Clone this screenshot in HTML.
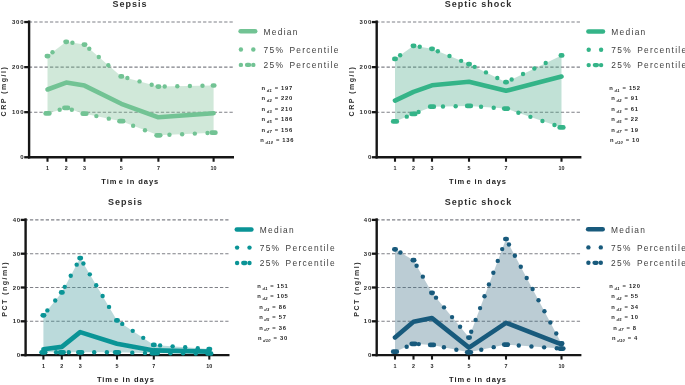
<!DOCTYPE html>
<html><head><meta charset="utf-8"><style>
html,body{margin:0;padding:0;background:#fff;overflow:hidden;}
svg{display:block;font-family:"Liberation Sans", sans-serif;filter:blur(0.25px);will-change:transform;}
</style></head><body>
<svg width="685" height="385" viewBox="0 0 685 385">
<rect width="685" height="385" fill="#fff"/>
<line x1="28.82" y1="112.18" x2="233.2" y2="112.18" stroke="#7f8087" stroke-width="1.1" stroke-dasharray="3.3 1.98"/>
<line x1="28.82" y1="67.12" x2="233.2" y2="67.12" stroke="#7f8087" stroke-width="1.1" stroke-dasharray="3.3 1.98"/>
<line x1="28.82" y1="22.05" x2="233.2" y2="22.05" stroke="#7f8087" stroke-width="1.1" stroke-dasharray="3.3 1.98"/>
<polygon points="47.50,113.40 66.20,107.90 84.50,113.70 121.30,121.20 158.40,135.30 213.60,132.70 213.60,157.25 47.50,157.25" fill="#fff"/>
<polygon points="47.50,56.10 66.20,41.80 84.50,44.60 121.30,76.40 158.40,86.60 213.60,85.50 213.60,132.70 158.40,135.30 121.30,121.20 84.50,113.70 66.20,107.90 47.50,113.40" fill="#79bd92" fill-opacity="0.35"/>
<line x1="29.1" y1="20.45" x2="29.1" y2="158.45" stroke="#161616" stroke-width="2.4"/>
<line x1="28.0" y1="157.25" x2="234.0" y2="157.25" stroke="#161616" stroke-width="2.3"/>
<line x1="24.200000000000003" y1="157.25" x2="29.1" y2="157.25" stroke="#161616" stroke-width="2.3"/>
<text x="24.5" y="159.35" font-size="6.0" font-weight="bold" fill="#2a2a2a" text-anchor="end" letter-spacing="0.85">0</text>
<line x1="24.200000000000003" y1="112.18" x2="29.1" y2="112.18" stroke="#161616" stroke-width="2.3"/>
<text x="24.5" y="114.28" font-size="6.0" font-weight="bold" fill="#2a2a2a" text-anchor="end" letter-spacing="0.85">100</text>
<line x1="24.200000000000003" y1="67.12" x2="29.1" y2="67.12" stroke="#161616" stroke-width="2.3"/>
<text x="24.5" y="69.22" font-size="6.0" font-weight="bold" fill="#2a2a2a" text-anchor="end" letter-spacing="0.85">200</text>
<line x1="24.200000000000003" y1="22.05" x2="29.1" y2="22.05" stroke="#161616" stroke-width="2.3"/>
<text x="24.5" y="24.15" font-size="6.0" font-weight="bold" fill="#2a2a2a" text-anchor="end" letter-spacing="0.85">300</text>
<line x1="47.5" y1="157.25" x2="47.5" y2="161.75" stroke="#161616" stroke-width="2.1"/>
<text x="47.5" y="169.7" font-size="5.4" font-weight="bold" fill="#262626" text-anchor="middle">1</text>
<line x1="66.2" y1="157.25" x2="66.2" y2="161.75" stroke="#161616" stroke-width="2.1"/>
<text x="66.2" y="169.7" font-size="5.4" font-weight="bold" fill="#262626" text-anchor="middle">2</text>
<line x1="84.5" y1="157.25" x2="84.5" y2="161.75" stroke="#161616" stroke-width="2.1"/>
<text x="84.5" y="169.7" font-size="5.4" font-weight="bold" fill="#262626" text-anchor="middle">3</text>
<line x1="121.3" y1="157.25" x2="121.3" y2="161.75" stroke="#161616" stroke-width="2.1"/>
<text x="121.3" y="169.7" font-size="5.4" font-weight="bold" fill="#262626" text-anchor="middle">5</text>
<line x1="158.4" y1="157.25" x2="158.4" y2="161.75" stroke="#161616" stroke-width="2.1"/>
<text x="158.4" y="169.7" font-size="5.4" font-weight="bold" fill="#262626" text-anchor="middle">7</text>
<line x1="213.6" y1="157.25" x2="213.6" y2="161.75" stroke="#161616" stroke-width="2.1"/>
<text x="213.6" y="169.7" font-size="5.4" font-weight="bold" fill="#262626" text-anchor="middle">10</text>
<circle cx="59.68" cy="109.82" r="2.2" fill="#72c394"/>
<circle cx="71.83" cy="109.68" r="2.2" fill="#72c394"/>
<circle cx="96.37" cy="116.12" r="2.2" fill="#72c394"/>
<circle cx="108.81" cy="118.65" r="2.2" fill="#72c394"/>
<circle cx="133.13" cy="125.70" r="2.2" fill="#72c394"/>
<circle cx="145.00" cy="130.21" r="2.2" fill="#72c394"/>
<circle cx="169.45" cy="134.78" r="2.2" fill="#72c394"/>
<circle cx="182.14" cy="134.18" r="2.2" fill="#72c394"/>
<circle cx="194.82" cy="133.58" r="2.2" fill="#72c394"/>
<circle cx="207.51" cy="132.99" r="2.2" fill="#72c394"/>
<rect x="43.35" y="111.05" width="8.30" height="4.70" rx="2.35" fill="#72c394"/>
<rect x="62.05" y="105.55" width="8.30" height="4.70" rx="2.35" fill="#72c394"/>
<rect x="80.35" y="111.35" width="8.30" height="4.70" rx="2.35" fill="#72c394"/>
<rect x="117.15" y="118.85" width="8.30" height="4.70" rx="2.35" fill="#72c394"/>
<rect x="154.25" y="132.95" width="8.30" height="4.70" rx="2.35" fill="#72c394"/>
<rect x="209.45" y="130.35" width="8.30" height="4.70" rx="2.35" fill="#72c394"/>
<circle cx="52.50" cy="52.27" r="2.2" fill="#72c394"/>
<circle cx="72.43" cy="42.75" r="2.2" fill="#72c394"/>
<circle cx="89.27" cy="48.72" r="2.2" fill="#72c394"/>
<circle cx="98.80" cy="56.96" r="2.2" fill="#72c394"/>
<circle cx="108.33" cy="65.20" r="2.2" fill="#72c394"/>
<circle cx="127.37" cy="78.07" r="2.2" fill="#72c394"/>
<circle cx="139.52" cy="81.41" r="2.2" fill="#72c394"/>
<circle cx="151.67" cy="84.75" r="2.2" fill="#72c394"/>
<circle cx="164.70" cy="86.47" r="2.2" fill="#72c394"/>
<circle cx="177.30" cy="86.22" r="2.2" fill="#72c394"/>
<circle cx="189.89" cy="85.97" r="2.2" fill="#72c394"/>
<circle cx="202.49" cy="85.72" r="2.2" fill="#72c394"/>
<rect x="44.50" y="53.75" width="6.00" height="4.70" rx="2.35" fill="#72c394"/>
<rect x="63.20" y="39.45" width="6.00" height="4.70" rx="2.35" fill="#72c394"/>
<rect x="81.50" y="42.25" width="6.00" height="4.70" rx="2.35" fill="#72c394"/>
<rect x="118.30" y="74.05" width="6.00" height="4.70" rx="2.35" fill="#72c394"/>
<rect x="155.40" y="84.25" width="6.00" height="4.70" rx="2.35" fill="#72c394"/>
<rect x="210.60" y="83.15" width="6.00" height="4.70" rx="2.35" fill="#72c394"/>
<polyline points="47.50,89.50 66.20,82.60 84.50,85.60 121.30,103.80 158.40,117.30 213.60,113.20" fill="none" stroke="#72c394" stroke-width="4.6" stroke-linecap="round" stroke-linejoin="round"/>
<text x="130.0" y="7.2" font-size="9" font-weight="bold" fill="#2e2e2e" text-anchor="middle" letter-spacing="1.0">Sepsis</text>
<text x="130.2" y="184.3" font-size="7.5" font-weight="bold" fill="#222" text-anchor="middle" letter-spacing="0.93">Tim<tspan dx="1.4">e</tspan> in days</text>
<text transform="translate(5.9,91.1) rotate(-90)" x="0" y="0" font-size="7" font-weight="bold" fill="#2e2e2e" text-anchor="middle" letter-spacing="1.5">CRP (mg/l)</text>
<line x1="240.6" y1="31.3" x2="255.2" y2="31.3" stroke="#72c394" stroke-width="4.5" stroke-linecap="round"/>
<circle cx="240.9" cy="49.5" r="2.2" fill="#72c394"/>
<circle cx="253.3" cy="49.5" r="2.2" fill="#72c394"/>
<circle cx="240.9" cy="64.9" r="2.2" fill="#72c394"/>
<rect x="244.90" y="62.75" width="6.40" height="4.30" rx="2.15" fill="#72c394"/>
<circle cx="253.3" cy="64.9" r="2.2" fill="#72c394"/>
<text x="263.5" y="34.6" font-size="8.4" fill="#3c3c3c" letter-spacing="1.3">Median</text>
<text x="263.5" y="52.8" font-size="8.4" fill="#3c3c3c" letter-spacing="1.3">75%<tspan dx="1.6"> Percentile</tspan></text>
<text x="263.5" y="68.0" font-size="8.4" fill="#3c3c3c" letter-spacing="1.3">25%<tspan dx="1.6"> Percentile</tspan></text>
<text x="277.2" y="89.9" font-size="5.8" font-weight="bold" fill="#1e1e1e" text-anchor="middle" letter-spacing="0.7">n<tspan font-size="4.0" font-style="italic" dx="0.9" dy="1.9" letter-spacing="0.3">d1</tspan><tspan dx="0.4" dy="-1.9">&#160;=&#160;197</tspan></text>
<text x="277.2" y="100.3" font-size="5.8" font-weight="bold" fill="#1e1e1e" text-anchor="middle" letter-spacing="0.7">n<tspan font-size="4.0" font-style="italic" dx="0.9" dy="1.9" letter-spacing="0.3">d2</tspan><tspan dx="0.4" dy="-1.9">&#160;=&#160;220</tspan></text>
<text x="277.2" y="110.7" font-size="5.8" font-weight="bold" fill="#1e1e1e" text-anchor="middle" letter-spacing="0.7">n<tspan font-size="4.0" font-style="italic" dx="0.9" dy="1.9" letter-spacing="0.3">d3</tspan><tspan dx="0.4" dy="-1.9">&#160;=&#160;210</tspan></text>
<text x="277.2" y="121.1" font-size="5.8" font-weight="bold" fill="#1e1e1e" text-anchor="middle" letter-spacing="0.7">n<tspan font-size="4.0" font-style="italic" dx="0.9" dy="1.9" letter-spacing="0.3">d5</tspan><tspan dx="0.4" dy="-1.9">&#160;=&#160;186</tspan></text>
<text x="277.2" y="131.5" font-size="5.8" font-weight="bold" fill="#1e1e1e" text-anchor="middle" letter-spacing="0.7">n<tspan font-size="4.0" font-style="italic" dx="0.9" dy="1.9" letter-spacing="0.3">d7</tspan><tspan dx="0.4" dy="-1.9">&#160;=&#160;156</tspan></text>
<text x="277.2" y="141.9" font-size="5.8" font-weight="bold" fill="#1e1e1e" text-anchor="middle" letter-spacing="0.7">n<tspan font-size="4.0" font-style="italic" dx="0.9" dy="1.9" letter-spacing="0.3">d10</tspan><tspan dx="0.4" dy="-1.9">&#160;=&#160;136</tspan></text>
<line x1="376.02" y1="112.18" x2="580.8" y2="112.18" stroke="#7f8087" stroke-width="1.1" stroke-dasharray="3.3 1.98"/>
<line x1="376.02" y1="67.12" x2="580.8" y2="67.12" stroke="#7f8087" stroke-width="1.1" stroke-dasharray="3.3 1.98"/>
<line x1="376.02" y1="22.05" x2="580.8" y2="22.05" stroke="#7f8087" stroke-width="1.1" stroke-dasharray="3.3 1.98"/>
<polygon points="395.00,121.40 413.50,113.90 432.00,106.70 469.00,105.90 506.00,108.60 561.50,127.40 561.50,157.25 395.00,157.25" fill="#fff"/>
<polygon points="395.00,58.90 413.50,45.80 432.00,48.80 469.00,64.10 506.00,82.20 561.50,55.40 561.50,127.40 506.00,108.60 469.00,105.90 432.00,106.70 413.50,113.90 395.00,121.40" fill="#4ea98a" fill-opacity="0.35"/>
<line x1="376.7" y1="20.45" x2="376.7" y2="158.45" stroke="#161616" stroke-width="2.4"/>
<line x1="375.59999999999997" y1="157.25" x2="581.4" y2="157.25" stroke="#161616" stroke-width="2.3"/>
<line x1="371.8" y1="157.25" x2="376.7" y2="157.25" stroke="#161616" stroke-width="2.3"/>
<text x="372.1" y="159.35" font-size="6.0" font-weight="bold" fill="#2a2a2a" text-anchor="end" letter-spacing="0.85">0</text>
<line x1="371.8" y1="112.18" x2="376.7" y2="112.18" stroke="#161616" stroke-width="2.3"/>
<text x="372.1" y="114.28" font-size="6.0" font-weight="bold" fill="#2a2a2a" text-anchor="end" letter-spacing="0.85">100</text>
<line x1="371.8" y1="67.12" x2="376.7" y2="67.12" stroke="#161616" stroke-width="2.3"/>
<text x="372.1" y="69.22" font-size="6.0" font-weight="bold" fill="#2a2a2a" text-anchor="end" letter-spacing="0.85">200</text>
<line x1="371.8" y1="22.05" x2="376.7" y2="22.05" stroke="#161616" stroke-width="2.3"/>
<text x="372.1" y="24.15" font-size="6.0" font-weight="bold" fill="#2a2a2a" text-anchor="end" letter-spacing="0.85">300</text>
<line x1="395.0" y1="157.25" x2="395.0" y2="161.75" stroke="#161616" stroke-width="2.1"/>
<text x="395.0" y="169.7" font-size="5.4" font-weight="bold" fill="#262626" text-anchor="middle">1</text>
<line x1="413.5" y1="157.25" x2="413.5" y2="161.75" stroke="#161616" stroke-width="2.1"/>
<text x="413.5" y="169.7" font-size="5.4" font-weight="bold" fill="#262626" text-anchor="middle">2</text>
<line x1="432.0" y1="157.25" x2="432.0" y2="161.75" stroke="#161616" stroke-width="2.1"/>
<text x="432.0" y="169.7" font-size="5.4" font-weight="bold" fill="#262626" text-anchor="middle">3</text>
<line x1="469.0" y1="157.25" x2="469.0" y2="161.75" stroke="#161616" stroke-width="2.1"/>
<text x="469.0" y="169.7" font-size="5.4" font-weight="bold" fill="#262626" text-anchor="middle">5</text>
<line x1="506.0" y1="157.25" x2="506.0" y2="161.75" stroke="#161616" stroke-width="2.1"/>
<text x="506.0" y="169.7" font-size="5.4" font-weight="bold" fill="#262626" text-anchor="middle">7</text>
<line x1="561.5" y1="157.25" x2="561.5" y2="161.75" stroke="#161616" stroke-width="2.1"/>
<text x="561.5" y="169.7" font-size="5.4" font-weight="bold" fill="#262626" text-anchor="middle">10</text>
<circle cx="406.77" cy="116.63" r="2.2" fill="#34b488"/>
<circle cx="418.57" cy="111.93" r="2.2" fill="#34b488"/>
<circle cx="442.98" cy="106.46" r="2.2" fill="#34b488"/>
<circle cx="455.68" cy="106.19" r="2.2" fill="#34b488"/>
<circle cx="481.05" cy="106.78" r="2.2" fill="#34b488"/>
<circle cx="493.71" cy="107.70" r="2.2" fill="#34b488"/>
<circle cx="518.39" cy="112.80" r="2.2" fill="#34b488"/>
<circle cx="530.42" cy="116.87" r="2.2" fill="#34b488"/>
<circle cx="542.44" cy="120.95" r="2.2" fill="#34b488"/>
<circle cx="554.47" cy="125.02" r="2.2" fill="#34b488"/>
<rect x="390.85" y="119.05" width="8.30" height="4.70" rx="2.35" fill="#34b488"/>
<rect x="409.35" y="111.55" width="8.30" height="4.70" rx="2.35" fill="#34b488"/>
<rect x="427.85" y="104.35" width="8.30" height="4.70" rx="2.35" fill="#34b488"/>
<rect x="464.85" y="103.55" width="8.30" height="4.70" rx="2.35" fill="#34b488"/>
<rect x="501.85" y="106.25" width="8.30" height="4.70" rx="2.35" fill="#34b488"/>
<rect x="557.35" y="125.05" width="8.30" height="4.70" rx="2.35" fill="#34b488"/>
<circle cx="400.14" cy="55.26" r="2.2" fill="#34b488"/>
<circle cx="419.72" cy="46.81" r="2.2" fill="#34b488"/>
<circle cx="437.82" cy="51.21" r="2.2" fill="#34b488"/>
<circle cx="449.47" cy="56.02" r="2.2" fill="#34b488"/>
<circle cx="461.11" cy="60.84" r="2.2" fill="#34b488"/>
<circle cx="474.66" cy="66.87" r="2.2" fill="#34b488"/>
<circle cx="485.98" cy="72.41" r="2.2" fill="#34b488"/>
<circle cx="497.30" cy="77.94" r="2.2" fill="#34b488"/>
<circle cx="511.67" cy="79.46" r="2.2" fill="#34b488"/>
<circle cx="523.02" cy="73.98" r="2.2" fill="#34b488"/>
<circle cx="534.37" cy="68.50" r="2.2" fill="#34b488"/>
<circle cx="545.71" cy="63.02" r="2.2" fill="#34b488"/>
<rect x="392.00" y="56.55" width="6.00" height="4.70" rx="2.35" fill="#34b488"/>
<rect x="410.50" y="43.45" width="6.00" height="4.70" rx="2.35" fill="#34b488"/>
<rect x="429.00" y="46.45" width="6.00" height="4.70" rx="2.35" fill="#34b488"/>
<rect x="466.00" y="61.75" width="6.00" height="4.70" rx="2.35" fill="#34b488"/>
<rect x="503.00" y="79.85" width="6.00" height="4.70" rx="2.35" fill="#34b488"/>
<rect x="558.50" y="53.05" width="6.00" height="4.70" rx="2.35" fill="#34b488"/>
<polyline points="395.00,100.60 413.50,91.80 432.00,85.30 469.00,81.80 506.00,90.80 561.50,76.60" fill="none" stroke="#34b488" stroke-width="4.6" stroke-linecap="round" stroke-linejoin="round"/>
<text x="478.4" y="7.1" font-size="9" font-weight="bold" fill="#2e2e2e" text-anchor="middle" letter-spacing="1.0">Septic shock</text>
<text x="478.0" y="184.3" font-size="7.5" font-weight="bold" fill="#222" text-anchor="middle" letter-spacing="0.93">Tim<tspan dx="1.4">e</tspan> in days</text>
<text transform="translate(353.8,91.1) rotate(-90)" x="0" y="0" font-size="7" font-weight="bold" fill="#2e2e2e" text-anchor="middle" letter-spacing="1.5">CRP (mg/l)</text>
<line x1="588.4000000000001" y1="31.5" x2="603.0" y2="31.5" stroke="#34b488" stroke-width="4.5" stroke-linecap="round"/>
<circle cx="588.7" cy="49.7" r="2.2" fill="#34b488"/>
<circle cx="601.1" cy="49.7" r="2.2" fill="#34b488"/>
<circle cx="588.7" cy="65.1" r="2.2" fill="#34b488"/>
<rect x="592.70" y="62.95" width="6.40" height="4.30" rx="2.15" fill="#34b488"/>
<circle cx="601.1" cy="65.1" r="2.2" fill="#34b488"/>
<text x="611.3" y="34.8" font-size="8.4" fill="#3c3c3c" letter-spacing="1.3">Median</text>
<text x="611.3" y="53.0" font-size="8.4" fill="#3c3c3c" letter-spacing="1.3">75%<tspan dx="1.6"> Percentile</tspan></text>
<text x="611.3" y="68.2" font-size="8.4" fill="#3c3c3c" letter-spacing="1.3">25%<tspan dx="1.6"> Percentile</tspan></text>
<text x="625.0" y="89.9" font-size="5.8" font-weight="bold" fill="#1e1e1e" text-anchor="middle" letter-spacing="0.7">n<tspan font-size="4.0" font-style="italic" dx="0.9" dy="1.9" letter-spacing="0.3">d1</tspan><tspan dx="0.4" dy="-1.9">&#160;=&#160;152</tspan></text>
<text x="625.0" y="100.3" font-size="5.8" font-weight="bold" fill="#1e1e1e" text-anchor="middle" letter-spacing="0.7">n<tspan font-size="4.0" font-style="italic" dx="0.9" dy="1.9" letter-spacing="0.3">d2</tspan><tspan dx="0.4" dy="-1.9">&#160;=&#160;91</tspan></text>
<text x="625.0" y="110.7" font-size="5.8" font-weight="bold" fill="#1e1e1e" text-anchor="middle" letter-spacing="0.7">n<tspan font-size="4.0" font-style="italic" dx="0.9" dy="1.9" letter-spacing="0.3">d3</tspan><tspan dx="0.4" dy="-1.9">&#160;=&#160;61</tspan></text>
<text x="625.0" y="121.1" font-size="5.8" font-weight="bold" fill="#1e1e1e" text-anchor="middle" letter-spacing="0.7">n<tspan font-size="4.0" font-style="italic" dx="0.9" dy="1.9" letter-spacing="0.3">d5</tspan><tspan dx="0.4" dy="-1.9">&#160;=&#160;22</tspan></text>
<text x="625.0" y="131.5" font-size="5.8" font-weight="bold" fill="#1e1e1e" text-anchor="middle" letter-spacing="0.7">n<tspan font-size="4.0" font-style="italic" dx="0.9" dy="1.9" letter-spacing="0.3">d7</tspan><tspan dx="0.4" dy="-1.9">&#160;=&#160;19</tspan></text>
<text x="625.0" y="141.9" font-size="5.8" font-weight="bold" fill="#1e1e1e" text-anchor="middle" letter-spacing="0.7">n<tspan font-size="4.0" font-style="italic" dx="0.9" dy="1.9" letter-spacing="0.3">d10</tspan><tspan dx="0.4" dy="-1.9">&#160;=&#160;10</tspan></text>
<line x1="24.62" y1="321.30" x2="228.5" y2="321.30" stroke="#7f8087" stroke-width="1.1" stroke-dasharray="3.3 1.98"/>
<line x1="24.62" y1="287.50" x2="228.5" y2="287.50" stroke="#7f8087" stroke-width="1.1" stroke-dasharray="3.3 1.98"/>
<line x1="24.62" y1="253.70" x2="228.5" y2="253.70" stroke="#7f8087" stroke-width="1.1" stroke-dasharray="3.3 1.98"/>
<line x1="24.62" y1="219.90" x2="228.5" y2="219.90" stroke="#7f8087" stroke-width="1.1" stroke-dasharray="3.3 1.98"/>
<polygon points="43.40,352.30 61.80,352.30 80.20,352.30 117.00,352.30 153.80,353.20 209.30,353.50 209.30,355.10 43.40,355.10" fill="#fff"/>
<polygon points="43.40,315.30 61.80,292.40 80.20,258.10 117.00,320.40 153.80,344.90 209.30,349.10 209.30,353.50 153.80,353.20 117.00,352.30 80.20,352.30 61.80,352.30 43.40,352.30" fill="#3d9598" fill-opacity="0.35"/>
<line x1="25.6" y1="218.3" x2="25.6" y2="356.3" stroke="#161616" stroke-width="2.4"/>
<line x1="24.5" y1="355.1" x2="229.5" y2="355.1" stroke="#161616" stroke-width="2.3"/>
<line x1="20.700000000000003" y1="355.10" x2="25.6" y2="355.10" stroke="#161616" stroke-width="2.3"/>
<text x="21.0" y="357.20" font-size="6.0" font-weight="bold" fill="#2a2a2a" text-anchor="end" letter-spacing="0.85">0</text>
<line x1="20.700000000000003" y1="321.30" x2="25.6" y2="321.30" stroke="#161616" stroke-width="2.3"/>
<text x="21.0" y="323.40" font-size="6.0" font-weight="bold" fill="#2a2a2a" text-anchor="end" letter-spacing="0.85">10</text>
<line x1="20.700000000000003" y1="287.50" x2="25.6" y2="287.50" stroke="#161616" stroke-width="2.3"/>
<text x="21.0" y="289.60" font-size="6.0" font-weight="bold" fill="#2a2a2a" text-anchor="end" letter-spacing="0.85">20</text>
<line x1="20.700000000000003" y1="253.70" x2="25.6" y2="253.70" stroke="#161616" stroke-width="2.3"/>
<text x="21.0" y="255.80" font-size="6.0" font-weight="bold" fill="#2a2a2a" text-anchor="end" letter-spacing="0.85">30</text>
<line x1="20.700000000000003" y1="219.90" x2="25.6" y2="219.90" stroke="#161616" stroke-width="2.3"/>
<text x="21.0" y="222.00" font-size="6.0" font-weight="bold" fill="#2a2a2a" text-anchor="end" letter-spacing="0.85">40</text>
<line x1="43.4" y1="355.1" x2="43.4" y2="359.6" stroke="#161616" stroke-width="2.1"/>
<text x="43.4" y="367.5" font-size="5.4" font-weight="bold" fill="#262626" text-anchor="middle">1</text>
<line x1="61.8" y1="355.1" x2="61.8" y2="359.6" stroke="#161616" stroke-width="2.1"/>
<text x="61.8" y="367.5" font-size="5.4" font-weight="bold" fill="#262626" text-anchor="middle">2</text>
<line x1="80.2" y1="355.1" x2="80.2" y2="359.6" stroke="#161616" stroke-width="2.1"/>
<text x="80.2" y="367.5" font-size="5.4" font-weight="bold" fill="#262626" text-anchor="middle">3</text>
<line x1="117.0" y1="355.1" x2="117.0" y2="359.6" stroke="#161616" stroke-width="2.1"/>
<text x="117.0" y="367.5" font-size="5.4" font-weight="bold" fill="#262626" text-anchor="middle">5</text>
<line x1="153.8" y1="355.1" x2="153.8" y2="359.6" stroke="#161616" stroke-width="2.1"/>
<text x="153.8" y="367.5" font-size="5.4" font-weight="bold" fill="#262626" text-anchor="middle">7</text>
<line x1="209.3" y1="355.1" x2="209.3" y2="359.6" stroke="#161616" stroke-width="2.1"/>
<text x="209.3" y="367.5" font-size="5.4" font-weight="bold" fill="#262626" text-anchor="middle">10</text>
<circle cx="56.10" cy="352.30" r="2.2" fill="#0a9496"/>
<circle cx="68.80" cy="352.30" r="2.2" fill="#0a9496"/>
<circle cx="94.20" cy="352.30" r="2.2" fill="#0a9496"/>
<circle cx="106.90" cy="352.30" r="2.2" fill="#0a9496"/>
<circle cx="132.30" cy="352.67" r="2.2" fill="#0a9496"/>
<circle cx="144.99" cy="352.98" r="2.2" fill="#0a9496"/>
<circle cx="157.69" cy="353.22" r="2.2" fill="#0a9496"/>
<circle cx="170.39" cy="353.29" r="2.2" fill="#0a9496"/>
<circle cx="183.09" cy="353.36" r="2.2" fill="#0a9496"/>
<circle cx="195.79" cy="353.43" r="2.2" fill="#0a9496"/>
<rect x="39.25" y="349.95" width="8.30" height="4.70" rx="2.35" fill="#0a9496"/>
<rect x="57.65" y="349.95" width="8.30" height="4.70" rx="2.35" fill="#0a9496"/>
<rect x="76.05" y="349.95" width="8.30" height="4.70" rx="2.35" fill="#0a9496"/>
<rect x="112.85" y="349.95" width="8.30" height="4.70" rx="2.35" fill="#0a9496"/>
<rect x="149.65" y="350.85" width="8.30" height="4.70" rx="2.35" fill="#0a9496"/>
<rect x="205.15" y="351.15" width="8.30" height="4.70" rx="2.35" fill="#0a9496"/>
<circle cx="47.35" cy="310.39" r="2.2" fill="#0a9496"/>
<circle cx="55.24" cy="300.57" r="2.2" fill="#0a9496"/>
<circle cx="64.78" cy="286.85" r="2.2" fill="#0a9496"/>
<circle cx="70.73" cy="275.75" r="2.2" fill="#0a9496"/>
<circle cx="76.69" cy="264.64" r="2.2" fill="#0a9496"/>
<circle cx="83.40" cy="263.52" r="2.2" fill="#0a9496"/>
<circle cx="89.81" cy="274.37" r="2.2" fill="#0a9496"/>
<circle cx="96.22" cy="285.22" r="2.2" fill="#0a9496"/>
<circle cx="102.63" cy="296.07" r="2.2" fill="#0a9496"/>
<circle cx="109.04" cy="306.92" r="2.2" fill="#0a9496"/>
<circle cx="122.24" cy="323.89" r="2.2" fill="#0a9496"/>
<circle cx="132.73" cy="330.87" r="2.2" fill="#0a9496"/>
<circle cx="143.22" cy="337.86" r="2.2" fill="#0a9496"/>
<circle cx="160.08" cy="345.38" r="2.2" fill="#0a9496"/>
<circle cx="172.65" cy="346.33" r="2.2" fill="#0a9496"/>
<circle cx="185.21" cy="347.28" r="2.2" fill="#0a9496"/>
<circle cx="197.77" cy="348.23" r="2.2" fill="#0a9496"/>
<rect x="40.40" y="312.95" width="6.00" height="4.70" rx="2.35" fill="#0a9496"/>
<rect x="58.80" y="290.05" width="6.00" height="4.70" rx="2.35" fill="#0a9496"/>
<rect x="77.20" y="255.75" width="6.00" height="4.70" rx="2.35" fill="#0a9496"/>
<rect x="114.00" y="318.05" width="6.00" height="4.70" rx="2.35" fill="#0a9496"/>
<rect x="150.80" y="342.55" width="6.00" height="4.70" rx="2.35" fill="#0a9496"/>
<rect x="206.30" y="346.75" width="6.00" height="4.70" rx="2.35" fill="#0a9496"/>
<polyline points="43.40,349.20 61.80,346.90 80.20,332.10 117.00,343.80 153.80,350.40 209.30,351.60" fill="none" stroke="#0a9496" stroke-width="4.6" stroke-linecap="round" stroke-linejoin="round"/>
<text x="125.5" y="205.0" font-size="9" font-weight="bold" fill="#2e2e2e" text-anchor="middle" letter-spacing="1.0">Sepsis</text>
<text x="125.9" y="382.0" font-size="7.5" font-weight="bold" fill="#222" text-anchor="middle" letter-spacing="0.93">Tim<tspan dx="1.4">e</tspan> in days</text>
<text transform="translate(6.6,288.9) rotate(-90)" x="0" y="0" font-size="7" font-weight="bold" fill="#2e2e2e" text-anchor="middle" letter-spacing="1.5">PCT (ng/ml)</text>
<line x1="236.79999999999998" y1="229.4" x2="251.4" y2="229.4" stroke="#0a9496" stroke-width="4.5" stroke-linecap="round"/>
<circle cx="237.1" cy="247.60000000000002" r="2.2" fill="#0a9496"/>
<circle cx="249.5" cy="247.60000000000002" r="2.2" fill="#0a9496"/>
<circle cx="237.1" cy="263.0" r="2.2" fill="#0a9496"/>
<rect x="241.10" y="260.85" width="6.40" height="4.30" rx="2.15" fill="#0a9496"/>
<circle cx="249.5" cy="263.0" r="2.2" fill="#0a9496"/>
<text x="259.7" y="232.7" font-size="8.4" fill="#3c3c3c" letter-spacing="1.3">Median</text>
<text x="259.7" y="250.9" font-size="8.4" fill="#3c3c3c" letter-spacing="1.3">75%<tspan dx="1.6"> Percentile</tspan></text>
<text x="259.7" y="266.1" font-size="8.4" fill="#3c3c3c" letter-spacing="1.3">25%<tspan dx="1.6"> Percentile</tspan></text>
<text x="272.9" y="287.9" font-size="5.8" font-weight="bold" fill="#1e1e1e" text-anchor="middle" letter-spacing="0.7">n<tspan font-size="4.0" font-style="italic" dx="0.9" dy="1.9" letter-spacing="0.3">d1</tspan><tspan dx="0.4" dy="-1.9">&#160;=&#160;151</tspan></text>
<text x="272.9" y="298.3" font-size="5.8" font-weight="bold" fill="#1e1e1e" text-anchor="middle" letter-spacing="0.7">n<tspan font-size="4.0" font-style="italic" dx="0.9" dy="1.9" letter-spacing="0.3">d2</tspan><tspan dx="0.4" dy="-1.9">&#160;=&#160;105</tspan></text>
<text x="272.9" y="308.7" font-size="5.8" font-weight="bold" fill="#1e1e1e" text-anchor="middle" letter-spacing="0.7">n<tspan font-size="4.0" font-style="italic" dx="0.9" dy="1.9" letter-spacing="0.3">d3</tspan><tspan dx="0.4" dy="-1.9">&#160;=&#160;86</tspan></text>
<text x="272.9" y="319.1" font-size="5.8" font-weight="bold" fill="#1e1e1e" text-anchor="middle" letter-spacing="0.7">n<tspan font-size="4.0" font-style="italic" dx="0.9" dy="1.9" letter-spacing="0.3">d5</tspan><tspan dx="0.4" dy="-1.9">&#160;=&#160;57</tspan></text>
<text x="272.9" y="329.5" font-size="5.8" font-weight="bold" fill="#1e1e1e" text-anchor="middle" letter-spacing="0.7">n<tspan font-size="4.0" font-style="italic" dx="0.9" dy="1.9" letter-spacing="0.3">d7</tspan><tspan dx="0.4" dy="-1.9">&#160;=&#160;36</tspan></text>
<text x="272.9" y="339.9" font-size="5.8" font-weight="bold" fill="#1e1e1e" text-anchor="middle" letter-spacing="0.7">n<tspan font-size="4.0" font-style="italic" dx="0.9" dy="1.9" letter-spacing="0.3">d10</tspan><tspan dx="0.4" dy="-1.9">&#160;=&#160;30</tspan></text>
<line x1="376.12" y1="321.30" x2="580.8" y2="321.30" stroke="#7f8087" stroke-width="1.1" stroke-dasharray="3.3 1.98"/>
<line x1="376.12" y1="287.50" x2="580.8" y2="287.50" stroke="#7f8087" stroke-width="1.1" stroke-dasharray="3.3 1.98"/>
<line x1="376.12" y1="253.70" x2="580.8" y2="253.70" stroke="#7f8087" stroke-width="1.1" stroke-dasharray="3.3 1.98"/>
<line x1="376.12" y1="219.90" x2="580.8" y2="219.90" stroke="#7f8087" stroke-width="1.1" stroke-dasharray="3.3 1.98"/>
<polygon points="395.00,351.70 413.50,343.80 432.00,344.90 469.00,352.30 506.00,344.60 561.50,348.60 561.50,355.10 395.00,355.10" fill="#fff"/>
<polygon points="395.00,249.30 413.50,260.20 432.00,292.80 469.00,337.60 506.00,239.00 561.50,343.40 561.50,348.60 506.00,344.60 469.00,352.30 432.00,344.90 413.50,343.80 395.00,351.70" fill="#3d6d84" fill-opacity="0.35"/>
<line x1="376.7" y1="218.3" x2="376.7" y2="356.3" stroke="#161616" stroke-width="2.4"/>
<line x1="375.59999999999997" y1="355.1" x2="581.4" y2="355.1" stroke="#161616" stroke-width="2.3"/>
<line x1="371.8" y1="355.10" x2="376.7" y2="355.10" stroke="#161616" stroke-width="2.3"/>
<text x="372.1" y="357.20" font-size="6.0" font-weight="bold" fill="#2a2a2a" text-anchor="end" letter-spacing="0.85">0</text>
<line x1="371.8" y1="321.30" x2="376.7" y2="321.30" stroke="#161616" stroke-width="2.3"/>
<text x="372.1" y="323.40" font-size="6.0" font-weight="bold" fill="#2a2a2a" text-anchor="end" letter-spacing="0.85">10</text>
<line x1="371.8" y1="287.50" x2="376.7" y2="287.50" stroke="#161616" stroke-width="2.3"/>
<text x="372.1" y="289.60" font-size="6.0" font-weight="bold" fill="#2a2a2a" text-anchor="end" letter-spacing="0.85">20</text>
<line x1="371.8" y1="253.70" x2="376.7" y2="253.70" stroke="#161616" stroke-width="2.3"/>
<text x="372.1" y="255.80" font-size="6.0" font-weight="bold" fill="#2a2a2a" text-anchor="end" letter-spacing="0.85">30</text>
<line x1="371.8" y1="219.90" x2="376.7" y2="219.90" stroke="#161616" stroke-width="2.3"/>
<text x="372.1" y="222.00" font-size="6.0" font-weight="bold" fill="#2a2a2a" text-anchor="end" letter-spacing="0.85">40</text>
<line x1="395.0" y1="355.1" x2="395.0" y2="359.6" stroke="#161616" stroke-width="2.1"/>
<text x="395.0" y="367.5" font-size="5.4" font-weight="bold" fill="#262626" text-anchor="middle">1</text>
<line x1="413.5" y1="355.1" x2="413.5" y2="359.6" stroke="#161616" stroke-width="2.1"/>
<text x="413.5" y="367.5" font-size="5.4" font-weight="bold" fill="#262626" text-anchor="middle">2</text>
<line x1="432.0" y1="355.1" x2="432.0" y2="359.6" stroke="#161616" stroke-width="2.1"/>
<text x="432.0" y="367.5" font-size="5.4" font-weight="bold" fill="#262626" text-anchor="middle">3</text>
<line x1="469.0" y1="355.1" x2="469.0" y2="359.6" stroke="#161616" stroke-width="2.1"/>
<text x="469.0" y="367.5" font-size="5.4" font-weight="bold" fill="#262626" text-anchor="middle">5</text>
<line x1="506.0" y1="355.1" x2="506.0" y2="359.6" stroke="#161616" stroke-width="2.1"/>
<text x="506.0" y="367.5" font-size="5.4" font-weight="bold" fill="#262626" text-anchor="middle">7</text>
<line x1="561.5" y1="355.1" x2="561.5" y2="359.6" stroke="#161616" stroke-width="2.1"/>
<text x="561.5" y="367.5" font-size="5.4" font-weight="bold" fill="#262626" text-anchor="middle">10</text>
<circle cx="406.68" cy="346.71" r="2.2" fill="#185a7c"/>
<circle cx="418.77" cy="344.11" r="2.2" fill="#185a7c"/>
<circle cx="443.92" cy="347.28" r="2.2" fill="#185a7c"/>
<circle cx="456.37" cy="349.77" r="2.2" fill="#185a7c"/>
<circle cx="481.26" cy="349.75" r="2.2" fill="#185a7c"/>
<circle cx="493.69" cy="347.16" r="2.2" fill="#185a7c"/>
<circle cx="518.79" cy="345.52" r="2.2" fill="#185a7c"/>
<circle cx="531.46" cy="346.43" r="2.2" fill="#185a7c"/>
<circle cx="544.13" cy="347.35" r="2.2" fill="#185a7c"/>
<circle cx="556.79" cy="348.26" r="2.2" fill="#185a7c"/>
<rect x="390.85" y="349.35" width="8.30" height="4.70" rx="2.35" fill="#185a7c"/>
<rect x="409.35" y="341.45" width="8.30" height="4.70" rx="2.35" fill="#185a7c"/>
<rect x="427.85" y="342.55" width="8.30" height="4.70" rx="2.35" fill="#185a7c"/>
<rect x="464.85" y="349.95" width="8.30" height="4.70" rx="2.35" fill="#185a7c"/>
<rect x="501.85" y="342.25" width="8.30" height="4.70" rx="2.35" fill="#185a7c"/>
<rect x="557.35" y="346.25" width="8.30" height="4.70" rx="2.35" fill="#185a7c"/>
<circle cx="400.43" cy="252.50" r="2.2" fill="#185a7c"/>
<circle cx="416.61" cy="265.68" r="2.2" fill="#185a7c"/>
<circle cx="422.83" cy="276.64" r="2.2" fill="#185a7c"/>
<circle cx="436.01" cy="297.66" r="2.2" fill="#185a7c"/>
<circle cx="444.04" cy="307.37" r="2.2" fill="#185a7c"/>
<circle cx="452.06" cy="317.09" r="2.2" fill="#185a7c"/>
<circle cx="460.08" cy="326.80" r="2.2" fill="#185a7c"/>
<circle cx="471.21" cy="331.70" r="2.2" fill="#185a7c"/>
<circle cx="475.64" cy="319.90" r="2.2" fill="#185a7c"/>
<circle cx="480.07" cy="308.11" r="2.2" fill="#185a7c"/>
<circle cx="484.49" cy="296.31" r="2.2" fill="#185a7c"/>
<circle cx="488.92" cy="284.51" r="2.2" fill="#185a7c"/>
<circle cx="493.35" cy="272.72" r="2.2" fill="#185a7c"/>
<circle cx="497.77" cy="260.92" r="2.2" fill="#185a7c"/>
<circle cx="502.20" cy="249.12" r="2.2" fill="#185a7c"/>
<circle cx="508.96" cy="244.56" r="2.2" fill="#185a7c"/>
<circle cx="514.87" cy="255.69" r="2.2" fill="#185a7c"/>
<circle cx="520.79" cy="266.81" r="2.2" fill="#185a7c"/>
<circle cx="526.70" cy="277.94" r="2.2" fill="#185a7c"/>
<circle cx="532.62" cy="289.07" r="2.2" fill="#185a7c"/>
<circle cx="538.53" cy="300.19" r="2.2" fill="#185a7c"/>
<circle cx="544.44" cy="311.32" r="2.2" fill="#185a7c"/>
<circle cx="550.36" cy="322.44" r="2.2" fill="#185a7c"/>
<circle cx="556.27" cy="333.57" r="2.2" fill="#185a7c"/>
<rect x="392.00" y="246.95" width="6.00" height="4.70" rx="2.35" fill="#185a7c"/>
<rect x="410.50" y="257.85" width="6.00" height="4.70" rx="2.35" fill="#185a7c"/>
<rect x="429.00" y="290.45" width="6.00" height="4.70" rx="2.35" fill="#185a7c"/>
<rect x="466.00" y="335.25" width="6.00" height="4.70" rx="2.35" fill="#185a7c"/>
<rect x="503.00" y="236.65" width="6.00" height="4.70" rx="2.35" fill="#185a7c"/>
<rect x="558.50" y="341.05" width="6.00" height="4.70" rx="2.35" fill="#185a7c"/>
<polyline points="395.00,337.40 413.50,321.80 432.00,318.10 469.00,347.60 506.00,322.80 561.50,344.30" fill="none" stroke="#185a7c" stroke-width="4.6" stroke-linecap="round" stroke-linejoin="round"/>
<text x="478.4" y="205.1" font-size="9" font-weight="bold" fill="#2e2e2e" text-anchor="middle" letter-spacing="1.0">Septic shock</text>
<text x="478.0" y="382.0" font-size="7.5" font-weight="bold" fill="#222" text-anchor="middle" letter-spacing="0.93">Tim<tspan dx="1.4">e</tspan> in days</text>
<text transform="translate(358.5,288.9) rotate(-90)" x="0" y="0" font-size="7" font-weight="bold" fill="#2e2e2e" text-anchor="middle" letter-spacing="1.5">PCT (ng/ml)</text>
<line x1="588.1" y1="229.2" x2="602.6999999999999" y2="229.2" stroke="#185a7c" stroke-width="4.5" stroke-linecap="round"/>
<circle cx="588.4" cy="247.4" r="2.2" fill="#185a7c"/>
<circle cx="600.8" cy="247.4" r="2.2" fill="#185a7c"/>
<circle cx="588.4" cy="262.8" r="2.2" fill="#185a7c"/>
<rect x="592.40" y="260.65" width="6.40" height="4.30" rx="2.15" fill="#185a7c"/>
<circle cx="600.8" cy="262.8" r="2.2" fill="#185a7c"/>
<text x="611.0" y="232.5" font-size="8.4" fill="#3c3c3c" letter-spacing="1.3">Median</text>
<text x="611.0" y="250.7" font-size="8.4" fill="#3c3c3c" letter-spacing="1.3">75%<tspan dx="1.6"> Percentile</tspan></text>
<text x="611.0" y="265.9" font-size="8.4" fill="#3c3c3c" letter-spacing="1.3">25%<tspan dx="1.6"> Percentile</tspan></text>
<text x="625.0" y="287.9" font-size="5.8" font-weight="bold" fill="#1e1e1e" text-anchor="middle" letter-spacing="0.7">n<tspan font-size="4.0" font-style="italic" dx="0.9" dy="1.9" letter-spacing="0.3">d1</tspan><tspan dx="0.4" dy="-1.9">&#160;=&#160;120</tspan></text>
<text x="625.0" y="298.3" font-size="5.8" font-weight="bold" fill="#1e1e1e" text-anchor="middle" letter-spacing="0.7">n<tspan font-size="4.0" font-style="italic" dx="0.9" dy="1.9" letter-spacing="0.3">d2</tspan><tspan dx="0.4" dy="-1.9">&#160;=&#160;55</tspan></text>
<text x="625.0" y="308.7" font-size="5.8" font-weight="bold" fill="#1e1e1e" text-anchor="middle" letter-spacing="0.7">n<tspan font-size="4.0" font-style="italic" dx="0.9" dy="1.9" letter-spacing="0.3">d3</tspan><tspan dx="0.4" dy="-1.9">&#160;=&#160;34</tspan></text>
<text x="625.0" y="319.1" font-size="5.8" font-weight="bold" fill="#1e1e1e" text-anchor="middle" letter-spacing="0.7">n<tspan font-size="4.0" font-style="italic" dx="0.9" dy="1.9" letter-spacing="0.3">d5</tspan><tspan dx="0.4" dy="-1.9">&#160;=&#160;10</tspan></text>
<text x="625.0" y="329.5" font-size="5.8" font-weight="bold" fill="#1e1e1e" text-anchor="middle" letter-spacing="0.7">n<tspan font-size="4.0" font-style="italic" dx="0.9" dy="1.9" letter-spacing="0.3">d7</tspan><tspan dx="0.4" dy="-1.9">&#160;=&#160;8</tspan></text>
<text x="625.0" y="339.9" font-size="5.8" font-weight="bold" fill="#1e1e1e" text-anchor="middle" letter-spacing="0.7">n<tspan font-size="4.0" font-style="italic" dx="0.9" dy="1.9" letter-spacing="0.3">d10</tspan><tspan dx="0.4" dy="-1.9">&#160;=&#160;4</tspan></text>
</svg>
</body></html>
